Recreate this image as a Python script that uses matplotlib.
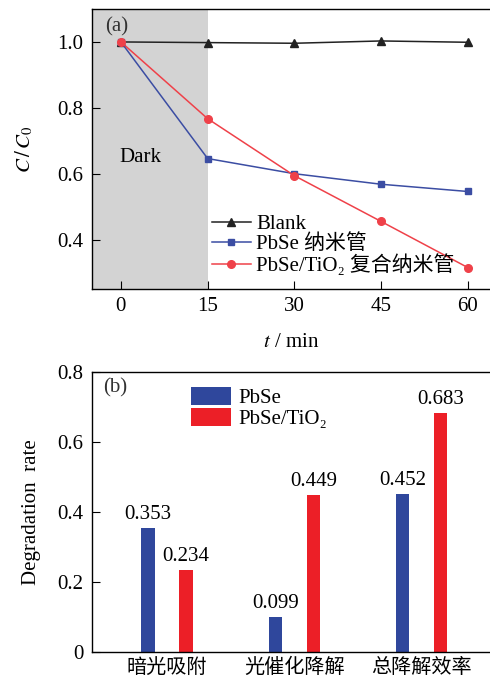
import matplotlib
matplotlib.use("Agg")
import matplotlib.pyplot as plt
import numpy as np

plt.rcParams['font.family'] = ['Liberation Serif', 'Noto Sans CJK SC', 'DejaVu Serif']
plt.rcParams['mathtext.fontset'] = 'stix'
plt.rcParams['font.size'] = 15

# (a) kinetics
t_min = [0, 15, 30, 45, 60]
blank = [1.0, 0.998, 0.996, 1.003, 0.999]
pbse = [1.0, 0.646, 0.600, 0.568, 0.546]
pbse_tio2 = [1.0, 0.767, 0.594, 0.455, 0.315]
line_labels = ["Blank", "PbSe 纳米管", "PbSe/TiO₂ 复合纳米管"]

# (b) degradation rate
categories = ["暗光吸附", "光催化降解", "总降解效率"]
rate_pbse = [0.353, 0.099, 0.452]
rate_tio2 = [0.234, 0.449, 0.683]
bar_labels = ["PbSe", "PbSe/TiO₂"]

blue_line = '#3b4da3'
red_line = '#ef4149'
blue_bar = '#2f479c'
red_bar = '#ec1f27'

fig = plt.figure(figsize=(4.9, 6.78), dpi=100)

# ---------------- top panel
ax = fig.add_axes([92/490, 1-289/678, 1-92/490+0.002, 280/678])
ax.axvspan(-5, 15, color='#d3d3d3', lw=0, zorder=0)
ax.plot(t_min, blank, color='#222222', lw=1.1, marker='^', ms=6, label=line_labels[0])
ax.plot(t_min, pbse, color=blue_line, lw=1.1, marker='s', ms=5, label=line_labels[1])
ax.plot(t_min, pbse_tio2, color=red_line, lw=1.1, marker='o', ms=5.5, label=line_labels[2])
ax.set_xlim(-5, 64)
ax.set_ylim(0.25, 1.1)
ax.set_xticks([0, 15, 30, 45, 60])
ax.set_yticks([0.4, 0.6, 0.8, 1.0])
ax.yaxis.set_major_formatter(matplotlib.ticker.FormatStrFormatter('%.1f'))
ax.tick_params(direction='in', length=6, width=0.8, pad=6)
ax.spines['right'].set_visible(False)
for s in ax.spines.values():
    s.set_linewidth(1.0)
ax.text(-0.3, 0.648, "Dark", va='center', ha='left')
ax.text(-2.8, 1.047, "(a)", va='center', ha='left', color='#333333')
ax.set_xlabel("$t$ / min", labelpad=12)
ax.set_ylabel("$C\\,/\\,C_0$", labelpad=16)
ax.legend(loc='lower left', bbox_to_anchor=(0.30, 0.045), frameon=False,
          handlelength=1.9, handletextpad=0.25, labelspacing=0.02,
          borderaxespad=0, borderpad=0, fontsize=15)

# ---------------- bottom panel
bx = fig.add_axes([92/490, 1-652/678, 1-92/490+0.002, 280/678])
x = np.arange(len(categories))
w = 0.105
off = 0.15
b1 = bx.bar(x - off, rate_pbse, w, color=blue_bar, label=bar_labels[0])
b2 = bx.bar(x + off, rate_tio2, w, color=red_bar, label=bar_labels[1])
for bars in (b1, b2):
    for r in bars:
        bx.text(r.get_x() + r.get_width()/2, r.get_height() + 0.012,
                "%.3f" % r.get_height(), ha='center', va='bottom')
bx.set_xlim(-0.59, 2.545)
bx.set_ylim(0, 0.8)
bx.set_xticks(x)
bx.set_xticklabels(categories, fontsize=14.5)
bx.set_yticks([0, 0.2, 0.4, 0.6, 0.8])
bx.set_yticklabels(["0", "0.2", "0.4", "0.6", "0.8"])
bx.tick_params(axis='y', direction='in', length=6, width=0.8, pad=6)
bx.tick_params(axis='x', length=0, pad=5)
bx.spines['right'].set_visible(False)
for s in bx.spines.values():
    s.set_linewidth(1.0)
bx.text(-0.5, 0.754, "(b)", va='center', ha='left', color='#333333')
bx.set_ylabel("Degradation  rate", labelpad=12)
bx.legend(loc='upper left', bbox_to_anchor=(0.249, 0.945), frameon=False,
          handlelength=1.9, handleheight=0.9, handletextpad=0.35, labelspacing=0.0,
          borderaxespad=0, borderpad=0, fontsize=15)

fig.savefig("out.png", dpi=100)
